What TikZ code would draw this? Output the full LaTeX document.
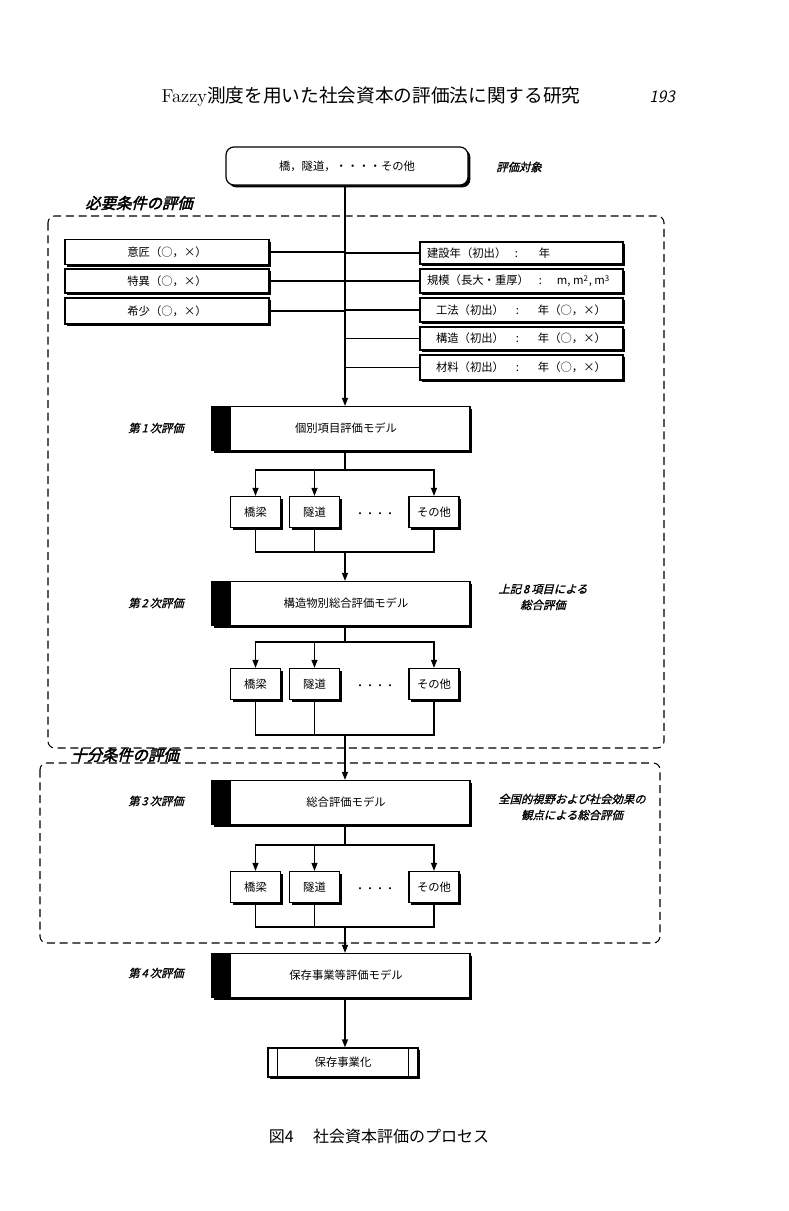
\documentclass[tikz,border=0pt]{standalone}
\usepackage{fontspec}
\newfontfamily\cjk{Noto Sans CJK JP}
\newfontfamily\cjkit{Noto Sans CJK JP}[FakeSlant=0.25,FakeBold=1.2]
\newfontfamily\cjkhd{Noto Sans CJK JP}[FakeSlant=0.25,FakeBold=2.5]
\usetikzlibrary{arrows.meta,shadows}
\newdimen\pxu \pxu=0.75pt
\newcommand\rtext[1]{\makebox[189\pxu][l]{#1}}
\begin{document}
\begin{tikzpicture}[x=0.75pt,y=-0.75pt,
  box/.style={draw, line width=0.9pt, fill=white, inner sep=0pt,
    font=\cjk\fontsize{8.5}{10}\selectfont,
    drop shadow={shadow xshift=1.8pt, shadow yshift=-1.8pt, fill=black, opacity=1}},
  lbox/.style={box, minimum width=204\pxu},
  rbox/.style={box, inner xsep=7\pxu},
  model/.style={box, minimum width=258\pxu, minimum height=44\pxu,
    path picture={\fill[black] (path picture bounding box.south west) rectangle ([xshift=14pt]path picture bounding box.north west);}},
  sub/.style={box, minimum width=50\pxu, minimum height=31\pxu},
  lab/.style={font=\cjkit\fontsize{8.5}{12}\selectfont, inner sep=0pt},
  head/.style={font=\cjkhd\fontsize{11.5}{13}\selectfont, inner sep=0pt},
  ln/.style={line width=0.9pt},
  arr/.style={line width=0.9pt, -{Triangle[length=6pt,width=4.5pt]}},
  dsh/.style={line width=0.8pt, dash pattern=on 6pt off 3.5pt, rounded corners=5pt}
]
\fill[white] (0,0) rectangle (789,1211);
\useasboundingbox (0,0) rectangle (789,1211);

% header
\node[inner sep=0pt] (hdr) at (371,97) {\fontsize{14}{16}\selectfont Fazzy{\cjk 測度を用いた社会資本の評価法に関する研究}};
\node[inner sep=0pt] (pg) at (662,97) {\fontsize{13}{15}\selectfont\sffamily\slshape 193};

% dashed regions
\draw[dsh] (48,216) rectangle (664,748);
\draw[dsh] (40,763) rectangle (660,943);
\node[head] (need) at (139,203) {必要条件の評価};
\node[head] (suff) at (125,755) {十分条件の評価};

% top box
\node[box, rounded corners=6pt, minimum width=242\pxu, minimum height=38\pxu] (top) at (347,166) {橋，隧道，・・・・その他};
\node[lab] (target) at (519,167) {評価対象};

% left boxes
\node[lbox, minimum height=25\pxu] (lb1) at (167,252) {意匠（○，×）};
\node[lbox, minimum height=24\pxu] (lb2) at (167,281) {特異（○，×）};
\node[lbox, minimum height=26\pxu] (lb3) at (167,311) {希少（○，×）};

% right boxes
\node[rbox, minimum height=22\pxu] (rb1) at (521.5,253) {\rtext{\makebox[88\pxu][l]{建設年（初出）}\makebox[24\pxu][l]{:}年}};
\node[rbox, minimum height=24\pxu] (rb2) at (521.5,281) {\rtext{\makebox[112\pxu][l]{規模（長大・重厚）}\makebox[18\pxu][l]{:}m, m\textsuperscript{2}, m\textsuperscript{3}}};
\node[rbox, minimum height=24\pxu] (rb3) at (521.5,310) {\rtext{\hspace*{9\pxu}\makebox[80\pxu][l]{工法（初出）}\makebox[22\pxu][l]{:}年（○，×）}};
\node[rbox, minimum height=23\pxu] (rb4) at (521.5,338.5) {\rtext{\hspace*{9\pxu}\makebox[80\pxu][l]{構造（初出）}\makebox[22\pxu][l]{:}年（○，×）}};
\node[rbox, minimum height=25\pxu] (rb5) at (521.5,367.5) {\rtext{\hspace*{9\pxu}\makebox[80\pxu][l]{材料（初出）}\makebox[22\pxu][l]{:}年（○，×）}};

% model boxes
\node[model] (m1) at (341,428.5) {\hspace*{10\pxu}個別項目評価モデル};
\node[model] (m2) at (341,603.5) {\hspace*{10\pxu}構造物別総合評価モデル};
\node[model] (m3) at (341,802.5) {\hspace*{10\pxu}総合評価モデル};
\node[model] (m4) at (341,975.5) {\hspace*{10\pxu}保存事業等評価モデル};

\node[lab] (e1) at (156,428) {第\,1\,次評価};
\node[lab] (e2) at (156,603) {第\,2\,次評価};
\node[lab] (e3) at (156,801) {第\,3\,次評価};
\node[lab] (e4) at (156,973) {第\,4\,次評価};
\node[lab, align=center] (n2) at (543,597) {上記\,8\,項目による\\総合評価};
\node[lab, align=center] (n3) at (572,807) {全国的視野および社会効果の\\観点による総合評価};

% sub boxes
\foreach \r/\yy in {1/512, 2/684, 3/887} {
  \node[sub] (s\r a) at (255.5,\yy) {橋梁};
  \node[sub] (s\r b) at (314.5,\yy) {隧道};
  \node[sub] (s\r c) at (434,\yy) {その他};
  \node[inner sep=0pt, font=\cjk\fontsize{7.5}{9}\selectfont] (d\r) at (375,\yy+3) {・・・・};
}

% final box
\node[box, minimum width=150\pxu, minimum height=29\pxu] (fin) at (343,1062.5) {保存事業化};
\draw[ln] ([xshift=7.5pt]fin.north west) -- ([xshift=7.5pt]fin.south west);
\draw[ln] ([xshift=-7.5pt]fin.north east) -- ([xshift=-7.5pt]fin.south east);

\node[inner sep=0pt] (cap) at (379,1136) {\cjk\fontsize{12}{14}\selectfont 図4\hspace{1.2em}社会資本評価のプロセス};

% coordinates
\coordinate (h1) at (345,470);
\coordinate (j1) at (345,552);
\coordinate (h2) at (345,642);
\coordinate (j2) at (345,735);
\coordinate (h3) at (345,845);
\coordinate (j3) at (345,927);

% connectors
\draw[arr] (top.south -| h1) -- (m1.north -| h1);
\foreach \n in {lb1,lb2,lb3} \draw[ln] (\n.east) -- (\n.east -| h1);
\foreach \n in {rb1,rb2,rb3,rb4,rb5} \draw[ln] (\n.west -| h1) -- (\n.west);

\draw[ln] (m1.south -| h1) -- (h1);
\draw[ln] (m2.south -| h2) -- (h2);
\draw[ln] (m3.south -| h3) -- (h3);
\foreach \r in {1,2,3} {
  \draw[arr] (h\r) -| (s\r a.north);
  \draw[arr] (h\r) -| (s\r b.north);
  \draw[arr] (h\r) -| (s\r c.north);
  \draw[ln] (s\r a.south) |- (j\r);
  \draw[ln] (s\r b.south) |- (j\r);
  \draw[ln] (s\r c.south) |- (j\r);
}
\draw[arr] (j1) -- (m2.north -| j1);
\draw[arr] (j2) -- (m3.north -| j2);
\draw[arr] (j3) -- (m4.north -| j3);
\draw[arr] (m4.south -| j3) -- (fin.north -| j3);
\end{tikzpicture}
\end{document}
